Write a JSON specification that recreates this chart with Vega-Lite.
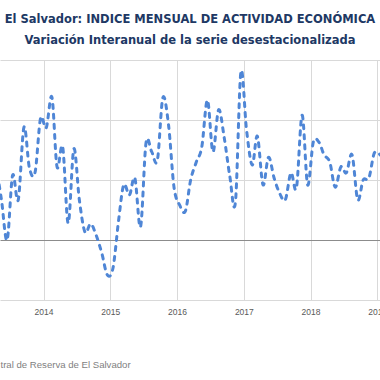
{
  "$schema": "https://vega.github.io/schema/vega-lite/v6.json",
  "width": 380,
  "height": 240,
  "autosize": {"type": "none"},
  "padding": {"left": 0, "top": 60, "right": 0, "bottom": 80},
  "background": "white",
  "config": {"view": {"stroke": null}},
  "title": {
    "text": "El Salvador: INDICE MENSUAL DE ACTIVIDAD ECONÓMICA",
    "subtitle": "Variación Interanual de la serie desestacionalizada",
    "anchor": "middle",
    "frame": "group",
    "font": "DejaVu Sans",
    "fontSize": 11.5,
    "fontWeight": "bold",
    "color": "#203864",
    "subtitleFont": "DejaVu Sans",
    "subtitleFontSize": 11.5,
    "subtitleFontWeight": "bold",
    "subtitleColor": "#203864",
    "subtitlePadding": 9,
    "offset": 14
  },
  "data": {
    "values": [
      {"mes": "2013-04-16", "var": 1.25},
      {"mes": "2013-05-16", "var": 0.67},
      {"mes": "2013-06-16", "var": 0.0},
      {"mes": "2013-07-16", "var": 1.08},
      {"mes": "2013-08-16", "var": 0.67},
      {"mes": "2013-09-16", "var": 1.88},
      {"mes": "2013-10-16", "var": 1.2},
      {"mes": "2013-11-16", "var": 1.13},
      {"mes": "2013-12-16", "var": 2.03},
      {"mes": "2014-01-16", "var": 1.87},
      {"mes": "2014-02-16", "var": 2.38},
      {"mes": "2014-03-16", "var": 1.22},
      {"mes": "2014-04-16", "var": 1.55},
      {"mes": "2014-05-16", "var": 0.28},
      {"mes": "2014-06-16", "var": 1.52},
      {"mes": "2014-07-16", "var": 0.67},
      {"mes": "2014-08-16", "var": 0.13},
      {"mes": "2014-09-16", "var": 0.27},
      {"mes": "2014-10-16", "var": 0.08},
      {"mes": "2014-11-16", "var": -0.22},
      {"mes": "2014-12-16", "var": -0.58},
      {"mes": "2015-01-16", "var": -0.47},
      {"mes": "2015-02-16", "var": 0.33},
      {"mes": "2015-03-16", "var": 0.92},
      {"mes": "2015-04-16", "var": 0.75},
      {"mes": "2015-05-16", "var": 1.03},
      {"mes": "2015-06-16", "var": 0.22},
      {"mes": "2015-07-16", "var": 1.62},
      {"mes": "2015-08-16", "var": 1.47},
      {"mes": "2015-09-16", "var": 1.33},
      {"mes": "2015-10-16", "var": 2.37},
      {"mes": "2015-11-16", "var": 1.92},
      {"mes": "2015-12-16", "var": 0.88},
      {"mes": "2016-01-16", "var": 0.58},
      {"mes": "2016-02-16", "var": 0.48},
      {"mes": "2016-03-16", "var": 1.0},
      {"mes": "2016-04-16", "var": 1.3},
      {"mes": "2016-05-16", "var": 1.55},
      {"mes": "2016-06-16", "var": 2.33},
      {"mes": "2016-07-16", "var": 1.47},
      {"mes": "2016-08-16", "var": 2.17},
      {"mes": "2016-09-16", "var": 1.7},
      {"mes": "2016-10-16", "var": 1.07},
      {"mes": "2016-11-16", "var": 0.63},
      {"mes": "2016-12-16", "var": 2.8},
      {"mes": "2017-01-16", "var": 1.83},
      {"mes": "2017-02-16", "var": 1.25},
      {"mes": "2017-03-16", "var": 1.73},
      {"mes": "2017-04-16", "var": 0.92},
      {"mes": "2017-05-16", "var": 1.38},
      {"mes": "2017-06-16", "var": 1.03},
      {"mes": "2017-07-16", "var": 0.78},
      {"mes": "2017-08-16", "var": 0.67},
      {"mes": "2017-09-16", "var": 1.12},
      {"mes": "2017-10-16", "var": 0.87},
      {"mes": "2017-11-16", "var": 2.08},
      {"mes": "2017-12-16", "var": 0.92},
      {"mes": "2018-01-16", "var": 1.63},
      {"mes": "2018-02-16", "var": 1.63},
      {"mes": "2018-03-16", "var": 1.42},
      {"mes": "2018-04-16", "var": 1.3},
      {"mes": "2018-05-16", "var": 0.88},
      {"mes": "2018-06-16", "var": 1.22},
      {"mes": "2018-07-16", "var": 1.12},
      {"mes": "2018-08-16", "var": 1.42},
      {"mes": "2018-09-16", "var": 0.67},
      {"mes": "2018-10-16", "var": 1.0},
      {"mes": "2018-11-16", "var": 1.03},
      {"mes": "2018-12-16", "var": 1.45},
      {"mes": "2019-01-16", "var": 1.42}
    ]
  },
  "mark": {
    "type": "line",
    "clip": true,
    "interpolate": "cardinal",
    "color": "#4f86d6",
    "strokeWidth": 3,
    "strokeDash": [4, 6],
    "strokeCap": "round"
  },
  "encoding": {
    "x": {
      "field": "mes",
      "type": "temporal",
      "scale": {"domain": ["2013-05-08", "2019-01-16"]},
      "axis": {
        "format": "%Y",
        "tickCount": {"interval": "year", "step": 1},
        "grid": true,
        "gridColor": "#d9d9d9",
        "gridWidth": 1,
        "domain": false,
        "ticks": false,
        "labelFont": "Liberation Sans",
        "labelFontSize": 8.5,
        "labelColor": "#595959",
        "labelPadding": 7,
        "labelBound": false,
        "labelOverlap": false,
        "labelFlush": false,
        "labelAlign": "center",
        "labelOffset": 0,
        "title": "tral de Reserva de El Salvador",
        "titleFont": "Liberation Sans",
        "titleFontSize": 9.6,
        "titleFontWeight": "normal",
        "titleColor": "#7f7f7f",
        "titleAnchor": "start",
        "titleAlign": "left",
        "titleBaseline": "middle",
        "titleX": 0,
        "titleY": 64
      }
    },
    "y": {
      "field": "var",
      "type": "quantitative",
      "scale": {"domain": [-1, 3], "nice": false, "zero": false},
      "axis": {
        "values": [-1, 0, 1, 2, 3],
        "labels": false,
        "ticks": false,
        "domain": false,
        "title": null,
        "grid": true,
        "gridColor": {"condition": {"test": "datum.value === 0", "value": "#8c8c8c"}, "value": "#d9d9d9"}
      }
    }
  }
}
